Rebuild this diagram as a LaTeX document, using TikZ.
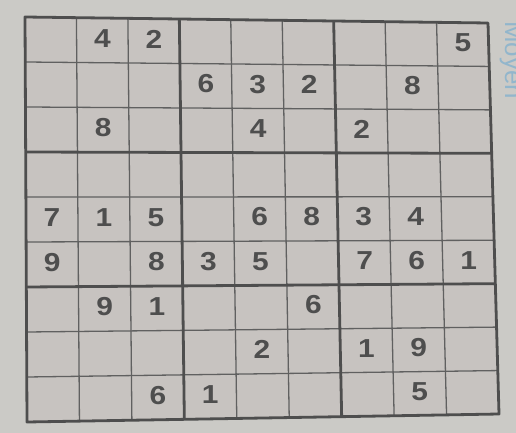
\documentclass[tikz,border=0pt]{standalone}
\usepackage{fontspec}
\setmainfont{Liberation Sans}
\usetikzlibrary{calc}
\definecolor{paper}{HTML}{CBCAC6}
\definecolor{cellbg}{HTML}{C7C3C0}
\definecolor{ink}{HTML}{4E4E4E}
\definecolor{moyen}{HTML}{92B6CC}
\begin{document}
\begin{tikzpicture}[x=1pt,y=-1pt,
  thinline/.style={draw=ink!90, line width=1.3pt},
  thickline/.style={draw=ink, line width=2.8pt, line join=round},
  digit/.style={text=ink, font=\fontsize{26}{26}\selectfont\bfseries, inner sep=0pt, xscale=1.15, yshift=2pt}]
\useasboundingbox (0,0) rectangle (516,433);
\clip (0,0) rectangle (516,433);
\fill[paper] (0,0) rectangle (516,433);
\coordinate (TL) at (25,17);
\coordinate (TR) at (488,23);
\coordinate (BR) at (499,414);
\coordinate (BL) at (27,422);
\fill[cellbg] (TL) -- (TR) -- (BR) -- (BL) -- cycle;
\foreach \i in {1,2,4,5,7,8} {
  \draw[thinline] ($(TL)!\i/9!(TR)$) -- ($(BL)!\i/9!(BR)$);
  \draw[thinline] ($(TL)!\i/9!(BL)$) -- ($(TR)!\i/9!(BR)$);
}
\foreach \i in {3,6} {
  \draw[thickline] ($(TL)!\i/9!(TR)$) -- ($(BL)!\i/9!(BR)$);
  \draw[thickline] ($(TL)!\i/9!(BL)$) -- ($(TR)!\i/9!(BR)$);
}
\draw[thickline] (TL) -- (TR) -- (BR) -- (BL) -- cycle;
\foreach \r/\c/\d in {1/2/4,1/3/2,1/9/5,
  2/4/6,2/5/3,2/6/2,2/8/8,
  3/2/8,3/5/4,3/7/2,
  5/1/7,5/2/1,5/3/5,5/5/6,5/6/8,5/7/3,5/8/4,
  6/1/9,6/3/8,6/4/3,6/5/5,6/7/7,6/8/6,6/9/1,
  7/2/9,7/3/1,7/6/6,
  8/5/2,8/7/1,8/8/9,
  9/3/6,9/4/1,9/8/5} {
  \pgfmathsetmacro\u{(\c-0.5)/9}
  \pgfmathsetmacro\v{(\r-0.5)/9}
  \coordinate (t) at ($(TL)!\u!(TR)$);
  \coordinate (b) at ($(BL)!\u!(BR)$);
  \node[digit] (d\r\c) at ($(t)!\v!(b)$) {\d};
}
\node[rotate=-90, text=moyen, font=\fontsize{26}{26}\selectfont, anchor=base west, inner sep=0pt] (moyen) at (505,21) {Moyen};
\end{tikzpicture}
\end{document}
